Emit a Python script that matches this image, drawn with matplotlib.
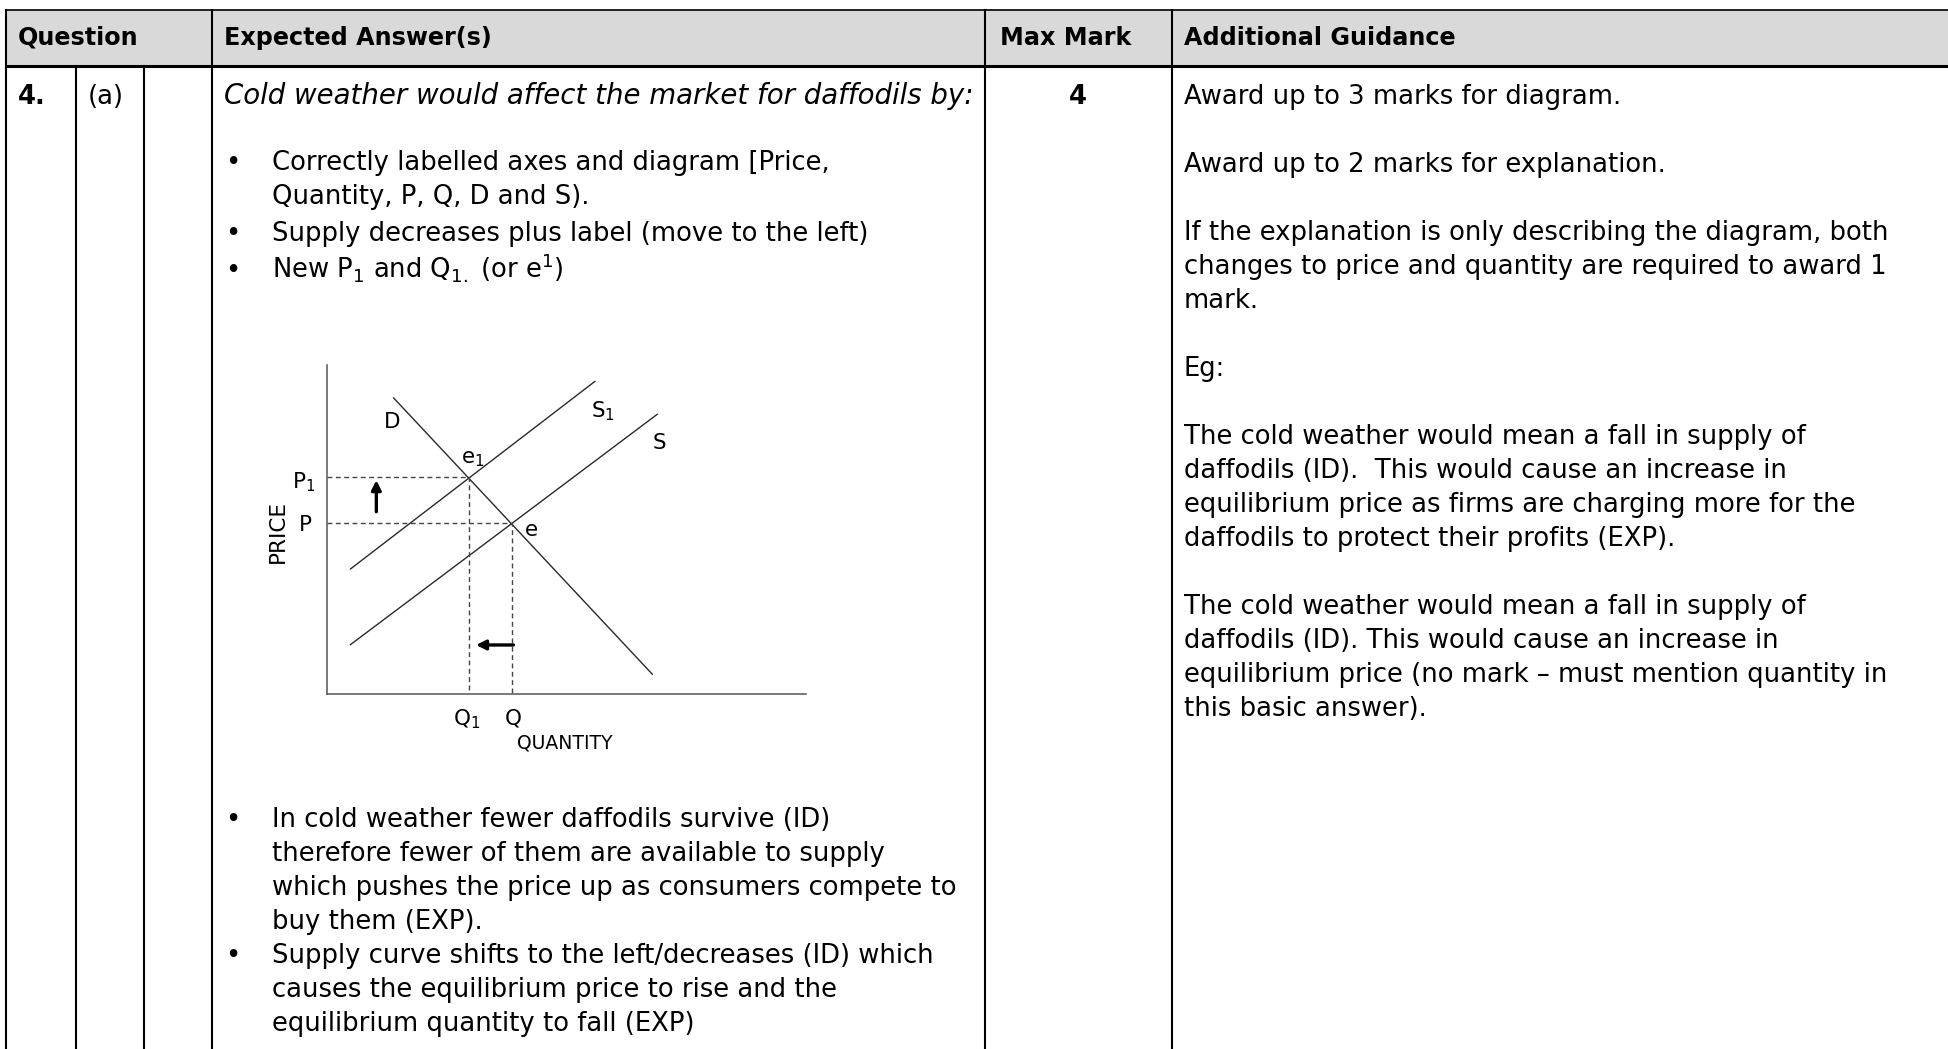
import matplotlib
matplotlib.use("Agg")
import matplotlib.pyplot as plt
from matplotlib.patches import Rectangle

plt.rcParams['font.family'] = 'DejaVu Sans'
plt.rcParams['mathtext.default'] = 'regular'

headers = ['Question', 'Expected Answer(s)', 'Max Mark', 'Additional Guidance']
question = ['4.', '(a)']
max_mark = '4'
intro = 'Cold weather would affect the market for daffodils by:'
criteria = [
    ['Correctly labelled axes and diagram [Price,', 'Quantity, P, Q, D and S).'],
    ['Supply decreases plus label (move to the left)'],
    ['New P$_1$ and Q$_{1.}$ (or e$^1$)'],
]
explanations = [
    ['In cold weather fewer daffodils survive (ID)',
     'therefore fewer of them are available to supply',
     'which pushes the price up as consumers compete to',
     'buy them (EXP).'],
    ['Supply curve shifts to the left/decreases (ID) which',
     'causes the equilibrium price to rise and the',
     'equilibrium quantity to fall (EXP)'],
]
guidance = [
    'Award up to 3 marks for diagram.',
    '',
    'Award up to 2 marks for explanation.',
    '',
    'If the explanation is only describing the diagram, both',
    'changes to price and quantity are required to award 1',
    'mark.',
    '',
    'Eg:',
    '',
    'The cold weather would mean a fall in supply of',
    'daffodils (ID).  This would cause an increase in',
    'equilibrium price as firms are charging more for the',
    'daffodils to protect their profits (EXP).',
    '',
    'The cold weather would mean a fall in supply of',
    'daffodils (ID). This would cause an increase in',
    'equilibrium price (no mark \u2013 must mention quantity in',
    'this basic answer).',
]

# diagram: quantity and price on a 0-100 scale
demand_q, demand_p = [14, 68], [90, 6]
supply_q, supply_p = [5, 69], [15, 85]
supply1_q, supply1_p = [5, 56], [38, 95]
eq_q, eq_p = 38.8, 52
eq1_q, eq1_p = 29.8, 66
price_arrow = (10.4, 55.4, 65.0)   # q, from p, to p
qty_arrow = (14.9, 39.0, 31.2)     # p, from q, to q

W, H = 1948, 1049
fig = plt.figure(figsize=(W / 100, H / 100), dpi=100)
ax = fig.add_axes([0, 0, 1, 1])
ax.set_xlim(0, W)
ax.set_ylim(H, 0)
ax.axis('off')

# table frame
top, head_bot = 9.5, 66
ax.add_patch(Rectangle((6, top), W - 6, head_bot - top, facecolor='#d9d9d9', edgecolor='none'))
ax.plot([6, W], [top, top], color='black', lw=1.2)
ax.plot([6, W], [head_bot, head_bot], color='black', lw=2.2)
for x in [6, 212, 985, 1172]:
    ax.plot([x, x], [top, H], color='black', lw=1.5)
for x in [76, 144]:
    ax.plot([x, x], [head_bot, H], color='black', lw=1.5)

hfs, fs = 17.2, 18.65
for x, h in zip([18, 224, 1000, 1184], headers):
    ax.text(x, 45, h, fontsize=hfs, fontweight='bold', va='baseline')

ax.text(18, 104, question[0], fontsize=fs, fontweight='bold', va='baseline')
ax.text(88, 104, question[1], fontsize=fs, va='baseline')
ax.text(1078, 104, max_mark, fontsize=fs, fontweight='bold', va='baseline', ha='center')
ax.text(224, 104, intro, fontsize=19.9, style='italic', va='baseline')

y = 170
for item in criteria:
    ax.text(225, y, '\u2022', fontsize=fs, va='baseline')
    for line in item:
        ax.text(272, y, line, fontsize=fs, va='baseline')
        y += 34
    y += 3

y = 827
for item in explanations:
    ax.text(225, y, '\u2022', fontsize=fs, va='baseline')
    for line in item:
        ax.text(272, y, line, fontsize=fs, va='baseline')
        y += 34

for i, line in enumerate(guidance):
    if line:
        ax.text(1184, 104 + 34 * i, line, fontsize=fs, va='baseline')

# supply and demand diagram
dx0, dy0, dw, dh = 326.5, 694, 479.2, 329
dax = fig.add_axes([dx0 / W, 1 - dy0 / H, dw / W, dh / H])
dax.set_xlim(0, 100)
dax.set_ylim(0, 100)
dax.patch.set_visible(False)
for s in ['top', 'right']:
    dax.spines[s].set_visible(False)
for s in ['left', 'bottom']:
    dax.spines[s].set_color('#555555')
    dax.spines[s].set_linewidth(1.1)
dax.set_xticks([])
dax.set_yticks([])

lc = '#2a2a2a'
dax.plot(demand_q, demand_p, color=lc, lw=1.0)
dax.plot(supply_q, supply_p, color=lc, lw=1.0)
dax.plot(supply1_q, supply1_p, color=lc, lw=1.0)
dash = (0, (3.5, 2.5))
dax.plot([0, eq1_q, eq1_q], [eq1_p, eq1_p, 0], color='#444444', lw=1.0, ls=dash)
dax.plot([0, eq_q, eq_q], [eq_p, eq_p, 0], color='#444444', lw=1.0, ls=dash)

dax.annotate('', xy=(price_arrow[0], price_arrow[2]), xytext=(price_arrow[0], price_arrow[1]),
             arrowprops=dict(arrowstyle='-|>', lw=2.4, color='black', mutation_scale=14, shrinkA=0, shrinkB=0))
dax.annotate('', xy=(qty_arrow[2], qty_arrow[0]), xytext=(qty_arrow[1], qty_arrow[0]),
             arrowprops=dict(arrowstyle='-|>', lw=2.4, color='black', mutation_scale=14, shrinkA=0, shrinkB=0))

lfs = 15.5
kw = dict(fontsize=lfs, ha='center', va='center', clip_on=False)
dax.text(13.6, 82.8, 'D', **kw)
dax.text(57.8, 86.0, 'S$_1$', **kw)
dax.text(69.4, 76.2, 'S', **kw)
dax.text(30.6, 71.3, 'e$_1$', **kw)
dax.text(42.7, 49.8, 'e', **kw)
dax.text(-4.8, 64.5, 'P$_1$', **kw)
dax.text(-4.4, 51.4, 'P', **kw)
dax.text(-10.1, 49.3, 'PRICE', rotation=90, **kw)
dax.text(29.3, -7.6, 'Q$_1$', **kw)
dax.text(39.0, -7.3, 'Q', **kw)
dax.text(49.8, -14.9, 'QUANTITY', fontsize=13.5, ha='center', va='center', clip_on=False)

fig.savefig('out.png', dpi=100)
